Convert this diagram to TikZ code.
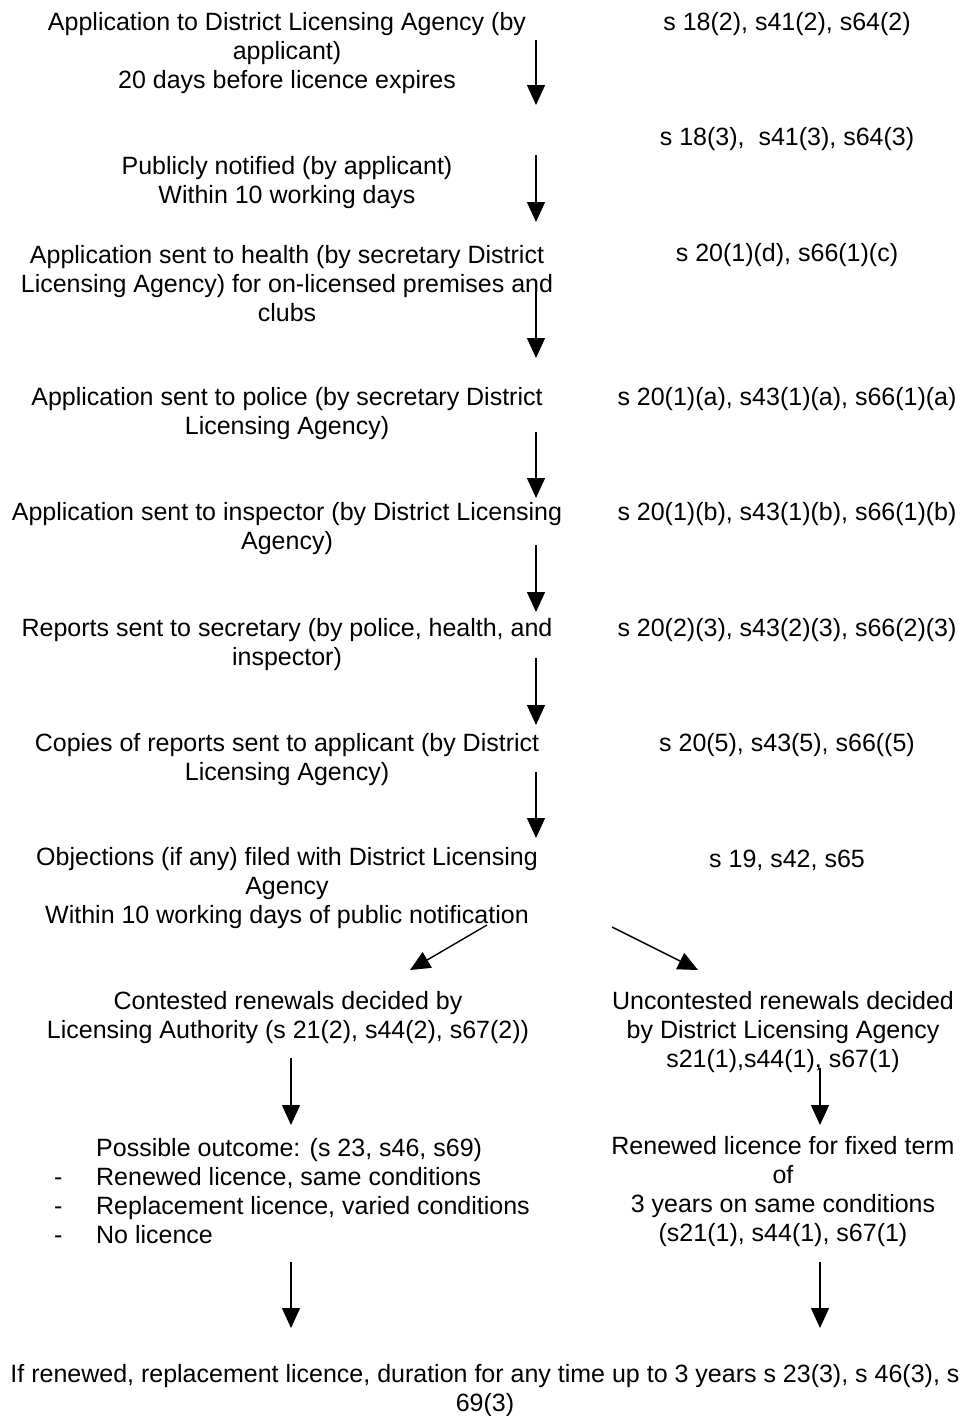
\documentclass[tikz,border=0pt]{standalone}
\usepackage{fontspec}
\setmainfont{Liberation Sans}
\usetikzlibrary{arrows.meta, positioning}

\begin{document}
\begin{tikzpicture}[x=1pt, y=-1pt,
    flowtext/.style={align=center, inner sep=0pt, yshift=-2pt, font=\fontsize{25}{29}\selectfont},
    flow/.style={-{Triangle[length=20pt, width=18pt]}, line width=1.4pt}]
    \useasboundingbox (0,0) rectangle (964,1416);

    % steps on the left, sections on the right
    \node[flowtext] (n1) at (287,51) {Application to District Licensing Agency (by\\applicant)\\20 days before licence expires};
    \node[flowtext] (r1) at (787,22) {s 18(2), s41(2), s64(2)};
    \node[flowtext] (r2) at (787,137) {s 18(3),\ \ s41(3), s64(3)};
    \node[flowtext] (n2) at (287,180.5) {Publicly notified (by applicant)\\Within 10 working days};
    \node[flowtext] (n3) at (287,282) {Application sent to health (by secretary District\\Licensing Agency) for on-licensed premises and\\clubs};
    \node[flowtext] (r3) at (787,253) {s 20(1)(d), s66(1)(c)};
    \node[flowtext] (n4) at (287,411.5) {Application sent to police (by secretary District\\Licensing Agency)};
    \node[flowtext] (r4) at (787,397) {s 20(1)(a), s43(1)(a), s66(1)(a)};
    \node[flowtext] (n5) at (287,527) {Application sent to inspector (by District Licensing\\Agency)};
    \node[flowtext] (r5) at (787,512) {s 20(1)(b), s43(1)(b), s66(1)(b)};
    \node[flowtext] (n6) at (287,642.5) {Reports sent to secretary (by police, health, and\\inspector)};
    \node[flowtext] (r6) at (787,628) {s 20(2)(3), s43(2)(3), s66(2)(3)};
    \node[flowtext] (n7) at (287,757.5) {Copies of reports sent to applicant (by District\\Licensing Agency)};
    \node[flowtext] (r7) at (787,743) {s 20(5), s43(5), s66((5)};
    \node[flowtext] (n8) at (287,886) {Objections (if any) filed with District Licensing\\Agency\\Within 10 working days of public notification};
    \node[flowtext] (r8) at (787,858) {s 19, s42, s65};

    % the two branches
    \node[flowtext] (c1) at (288,1015.5) {Contested renewals decided by\\Licensing Authority (s 21(2), s44(2), s67(2))};
    \node[flowtext] (u1) at (783,1030) {Uncontested renewals decided\\by District Licensing Agency\\s21(1),s44(1), s67(1)};
    \node[flowtext, align=left, anchor=west] (o1) at (54,1189.5) {\hspace*{42pt}Possible outcome: (s 23, s46, s69)\\\makebox[42pt][l]{-}Renewed licence, same conditions\\\makebox[42pt][l]{-}Replacement licence, varied conditions\\\makebox[42pt][l]{-}No licence};
    \node[flowtext] (o2) at (783,1189.5) {Renewed licence for fixed term\\of\\3 years on same conditions\\(s21(1), s44(1), s67(1)};
    \node[flowtext] (f1) at (485,1389) {If renewed, replacement licence, duration for any time up to 3 years s 23(3), s 46(3), s\\69(3)};

    % arrow ends
    \coordinate (a1s) at (536,40);   \coordinate (a1e) at (536,105);
    \coordinate (a2s) at (536,155);  \coordinate (a2e) at (536,222);
    \coordinate (a3s) at (536,292);  \coordinate (a3e) at (536,358);
    \coordinate (a4s) at (536,432);  \coordinate (a4e) at (536,498);
    \coordinate (a5s) at (536,545);  \coordinate (a5e) at (536,612);
    \coordinate (a6s) at (536,658);  \coordinate (a6e) at (536,725);
    \coordinate (a7s) at (536,772);  \coordinate (a7e) at (536,838);
    \coordinate (d1s) at (487,925);  \coordinate (d1e) at (410,970);
    \coordinate (d2s) at (612,927);  \coordinate (d2e) at (698,970);
    \coordinate (a8s) at (291,1058); \coordinate (a8e) at (291,1125);
    \coordinate (a9s) at (820,1068); \coordinate (a9e) at (820,1125);
    \coordinate (a10s) at (291,1262); \coordinate (a10e) at (291,1328);
    \coordinate (a11s) at (820,1262); \coordinate (a11e) at (820,1328);

    % arrows
    \draw[flow] (a1s) -- (a1e);
    \draw[flow] (a2s) -- (a2e);
    \draw[flow] (a3s) -- (a3e);
    \draw[flow] (a4s) -- (a4e);
    \draw[flow] (a5s) -- (a5e);
    \draw[flow] (a6s) -- (a6e);
    \draw[flow] (a7s) -- (a7e);
    \draw[flow] (d1s) -- (d1e); % left: contested
    \draw[flow] (d2s) -- (d2e); % right: uncontested
    \draw[flow] (a8s) -- (a8e);
    \draw[flow] (a9s) -- (a9e);
    \draw[flow] (a10s) -- (a10e);
    \draw[flow] (a11s) -- (a11e);
\end{tikzpicture}
\end{document}
